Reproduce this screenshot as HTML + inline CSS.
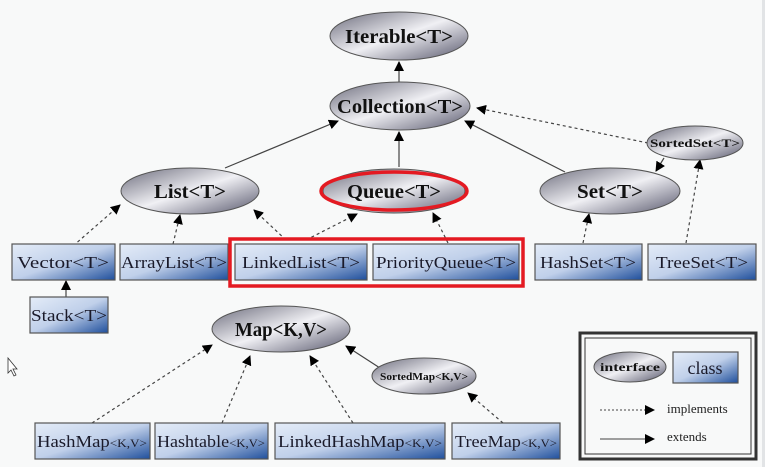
<!DOCTYPE html>
<html><head><meta charset="utf-8"><style>
html,body{margin:0;padding:0;background:#f8f9f9;}
svg{display:block;}
text{font-family:"Liberation Serif","Times New Roman",serif;}
.e{font-weight:bold;fill:#111;text-anchor:middle;}
.b{fill:#1a1a2a;text-anchor:middle;}
</style></head><body>
<svg width="765" height="467" viewBox="0 0 765 467" xmlns="http://www.w3.org/2000/svg">
<defs>
<linearGradient id="g" x1="0" y1="0" x2="1" y2="1">
<stop offset="0" stop-color="#6a6a7a"/><stop offset="0.5" stop-color="#f0f0f4"/><stop offset="1" stop-color="#55556a"/>
</linearGradient>
<linearGradient id="bl" x1="0" y1="0" x2="1" y2="1">
<stop offset="0" stop-color="#e4ecf8"/><stop offset="0.5" stop-color="#c0d0ea"/><stop offset="1" stop-color="#1f4f9c"/>
</linearGradient>
<marker id="a" markerWidth="10" markerHeight="10" refX="9" refY="5" orient="auto" markerUnits="userSpaceOnUse">
<path d="M0,0 L10,5 L0,10 z" fill="#000"/></marker>
</defs>
<rect width="765" height="467" fill="#f8f9f9"/>
<rect x="762" y="0" width="3" height="467" fill="#e2e4e6"/>

<g stroke="#444" stroke-width="1.2" fill="none" marker-end="url(#a)">
<line x1="399" y1="82" x2="399" y2="62"/>
<line x1="399" y1="167" x2="399" y2="132"/>
<line x1="225" y1="168" x2="338" y2="121"/>
<line x1="565" y1="172" x2="465" y2="121"/>
<line x1="648" y1="143" x2="477" y2="108" stroke-dasharray="3,3"/>
<line x1="664" y1="158" x2="656" y2="171"/>
<line x1="73" y1="246" x2="120" y2="205" stroke-dasharray="3,3"/>
<line x1="173" y1="244" x2="180" y2="215" stroke-dasharray="3,3"/>
<line x1="286" y1="240" x2="254" y2="210" stroke-dasharray="3,3"/>
<line x1="306" y1="240" x2="357" y2="214" stroke-dasharray="3,3"/>
<line x1="448" y1="243" x2="433" y2="213" stroke-dasharray="3,3"/>
<line x1="583" y1="243" x2="589" y2="214" stroke-dasharray="3,3"/>
<line x1="686" y1="243" x2="700" y2="160" stroke-dasharray="3,3"/>
<line x1="66" y1="297" x2="66" y2="281"/>
<line x1="92" y1="423" x2="212" y2="345" stroke-dasharray="3,3"/>
<line x1="222" y1="423" x2="250" y2="356" stroke-dasharray="3,3"/>
<line x1="353" y1="423" x2="310" y2="356" stroke-dasharray="3,3"/>
<line x1="380" y1="368" x2="346" y2="346"/>
<line x1="503" y1="423" x2="468" y2="393" stroke-dasharray="3,3"/>
</g>

<g stroke="#555" stroke-width="1" fill="url(#g)">
<ellipse cx="399" cy="36" rx="69" ry="24"/>
<ellipse cx="400" cy="106" rx="70" ry="24"/>
<ellipse cx="190" cy="191" rx="69" ry="23"/>
<ellipse cx="394" cy="191" rx="71" ry="22"/>
<ellipse cx="610" cy="191" rx="70" ry="23"/>
<ellipse cx="695" cy="143" rx="48" ry="17"/>
<ellipse cx="281" cy="329" rx="69" ry="23"/>
<ellipse cx="424" cy="376" rx="52" ry="18"/>
<ellipse cx="630" cy="367" rx="36" ry="15"/>
</g>
<ellipse cx="394" cy="191" rx="73" ry="19" fill="none" stroke="#e41a22" stroke-width="3.5"/>
<text class="e" x="399" y="43" font-size="20" textLength="108" lengthAdjust="spacingAndGlyphs">Iterable&lt;T&gt;</text>
<text class="e" x="400" y="113" font-size="20" textLength="126" lengthAdjust="spacingAndGlyphs">Collection&lt;T&gt;</text>
<text class="e" x="190" y="198" font-size="20" textLength="72" lengthAdjust="spacingAndGlyphs">List&lt;T&gt;</text>
<text class="e" x="394" y="198" font-size="20" textLength="94" lengthAdjust="spacingAndGlyphs">Queue&lt;T&gt;</text>
<text class="e" x="610" y="198" font-size="20" textLength="66" lengthAdjust="spacingAndGlyphs">Set&lt;T&gt;</text>
<text class="e" x="695" y="147" font-size="12" textLength="90" lengthAdjust="spacingAndGlyphs">SortedSet&lt;T&gt;</text>
<text class="e" x="281" y="336" font-size="20" textLength="92" lengthAdjust="spacingAndGlyphs">Map&lt;K,V&gt;</text>
<text class="e" x="424" y="380" font-size="10" textLength="88" lengthAdjust="spacingAndGlyphs">SortedMap&lt;K,V&gt;</text>
<text class="e" x="630" y="371" font-size="12" textLength="60" lengthAdjust="spacingAndGlyphs">interface</text>

<g stroke="#555" stroke-width="1.2" fill="url(#bl)">
<rect x="12" y="244" width="103" height="36"/>
<rect x="120" y="244" width="108" height="36"/>
<rect x="235" y="244" width="132" height="36"/>
<rect x="373" y="244" width="146" height="36"/>
<rect x="535" y="244" width="107" height="36"/>
<rect x="648" y="244" width="108" height="36"/>
<rect x="30" y="297" width="78" height="36"/>
<rect x="35" y="423" width="115" height="36"/>
<rect x="155" y="423" width="113" height="36"/>
<rect x="275" y="423" width="170" height="36"/>
<rect x="452" y="423" width="108" height="36"/>
<rect x="673" y="352" width="65" height="31"/>
</g>
<rect x="230" y="239" width="293" height="47" fill="none" stroke="#e41a22" stroke-width="3.5"/>
<g class="b" font-size="17">
<text x="63" y="268" textLength="92" lengthAdjust="spacingAndGlyphs">Vector&lt;T&gt;</text>
<text x="174" y="268" textLength="106" lengthAdjust="spacingAndGlyphs">ArrayList&lt;T&gt;</text>
<text x="301" y="268" textLength="118" lengthAdjust="spacingAndGlyphs">LinkedList&lt;T&gt;</text>
<text x="446" y="268" textLength="140" lengthAdjust="spacingAndGlyphs">PriorityQueue&lt;T&gt;</text>
<text x="588" y="268" textLength="96" lengthAdjust="spacingAndGlyphs">HashSet&lt;T&gt;</text>
<text x="702" y="268" textLength="92" lengthAdjust="spacingAndGlyphs">TreeSet&lt;T&gt;</text>
<text x="69" y="321" textLength="76" lengthAdjust="spacingAndGlyphs">Stack&lt;T&gt;</text>
<text x="92" y="447" textLength="110" lengthAdjust="spacingAndGlyphs">HashMap<tspan font-size="12">&lt;K,V&gt;</tspan></text>
<text x="211" y="447" textLength="108" lengthAdjust="spacingAndGlyphs">Hashtable<tspan font-size="12">&lt;K,V&gt;</tspan></text>
<text x="360" y="447" textLength="164" lengthAdjust="spacingAndGlyphs">LinkedHashMap<tspan font-size="12">&lt;K,V&gt;</tspan></text>
<text x="506" y="447" textLength="102" lengthAdjust="spacingAndGlyphs">TreeMap<tspan font-size="12">&lt;K,V&gt;</tspan></text>
<text x="705" y="374" font-size="18">class</text>
</g>

<rect x="580" y="333" width="176" height="126" fill="none" stroke="#333" stroke-width="3"/>
<rect x="585" y="338" width="166" height="116" fill="none" stroke="#333" stroke-width="1"/>
<g stroke="#444" stroke-width="1" marker-end="url(#a)">
<line x1="600" y1="410" x2="654" y2="410" stroke-dasharray="2,2"/>
<line x1="600" y1="439" x2="654" y2="439"/>
</g>
<text x="667" y="413" font-size="13" fill="#222">implements</text>
<text x="667" y="441" font-size="13" fill="#222">extends</text>

<path d="M8,358 L8,373 L11,370 L14,376 L16,375 L13,369 L17,369 Z" fill="#fff" stroke="#333" stroke-width="0.8"/>
</svg>
</body></html>
